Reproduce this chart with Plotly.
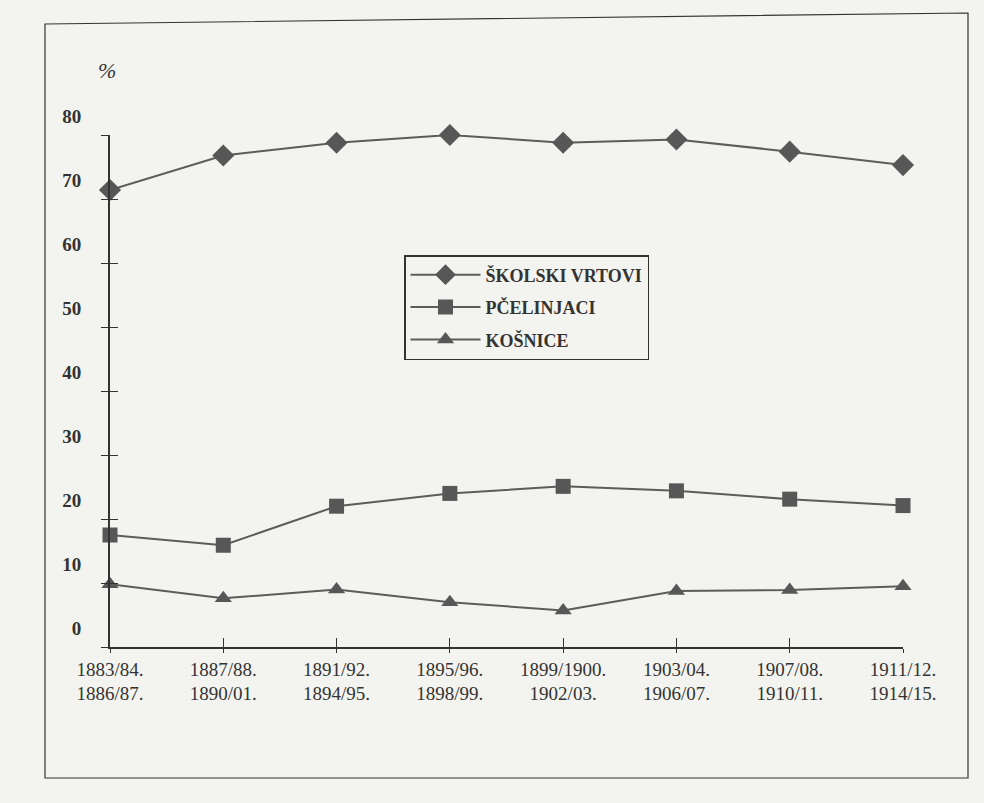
import plotly.graph_objects as go

periods = ["1883/84.<br>1886/87.", "1887/88.<br>1890/01.", "1891/92.<br>1894/95.",
           "1895/96.<br>1898/99.", "1899/1900.<br>1902/03.", "1903/04.<br>1906/07.",
           "1907/08.<br>1910/11.", "1911/12.<br>1914/15."]
skolski_vrtovi = [71.4, 76.8, 78.8, 80.0, 78.8, 79.3, 77.4, 75.3]
pcelinjaci = [17.5, 15.9, 22.0, 24.0, 25.1, 24.4, 23.1, 22.1]
kosnice = [9.8, 7.6, 9.0, 7.0, 5.7, 8.75, 8.9, 9.5]
y_ticks = [0, 10, 20, 30, 40, 50, 60, 70, 80]

W, H = 984, 803
L, R, T, B = 110, 81, 135, 156
BG = "#f3f3ef"
INK = "#333333"
LINE = "#5c5c5c"
MARK = "#575757"

xs = list(range(len(periods)))

fig = go.Figure()
series = [
    ("ŠKOLSKI VRTOVI", skolski_vrtovi, "diamond", 17),
    ("PČELINJACI", pcelinjaci, "square", 15),
    ("KOŠNICE", kosnice, "triangle-up", 15),
]
for i, (name, vals, sym, sz) in enumerate(series):
    fig.add_trace(go.Scatter(
        x=xs, y=vals, name=name, mode="lines+markers",
        line=dict(color=LINE, width=2),
        marker=dict(symbol=sym, size=sz, color=MARK),
        cliponaxis=False, legendgroup=f"g{i}",
    ))
# empty trace to activate overlay axes used for crossing tick marks
fig.add_trace(go.Scatter(x=[], y=[], xaxis="x2", yaxis="y2", showlegend=False, hoverinfo="skip"))

pw = W - L - R
ph = H - T - B
def px_x(p):
    return (p - L) / pw
def px_y(p):
    return (H - B - p) / ph

fig.update_layout(
    width=W, height=H,
    margin=dict(l=L, r=R, t=T, b=B, autoexpand=False),
    paper_bgcolor=BG, plot_bgcolor=BG,
    font=dict(family="Liberation Serif", color=INK),
    xaxis=dict(
        range=[0, len(periods) - 1], tickvals=xs, ticktext=periods,
        showgrid=False, zeroline=False, showline=True, linecolor=INK, linewidth=1.5,
        ticks="outside", ticklen=4, tickwidth=1.2, tickcolor=INK,
        tickfont=dict(family="Liberation Serif", size=19, color=INK),
        fixedrange=True,
    ),
    yaxis=dict(
        range=[0, 80], tickvals=y_ticks, ticktext=[str(v) for v in y_ticks],
        showgrid=False, zeroline=False, showline=True, linecolor=INK, linewidth=2,
        ticks="outside", ticklen=7, tickwidth=1.2, tickcolor=INK,
        tickfont=dict(family="Liberation Serif", size=19, color=INK, weight="bold"),
        ticklabelshift=-19, ticklabelstandoff=16,
        fixedrange=True,
    ),
    xaxis2=dict(
        overlaying="x", range=[0, len(periods) - 1], tickvals=xs,
        showticklabels=False, showgrid=False, zeroline=False, showline=False,
        ticks="inside", ticklen=9, tickwidth=1.2, tickcolor=INK,
    ),
    yaxis2=dict(
        overlaying="y", range=[0, 80], tickvals=y_ticks,
        showticklabels=False, showgrid=False, zeroline=False, showline=False,
        ticks="inside", ticklen=8, tickwidth=1.2, tickcolor=INK,
    ),
    legend=dict(
        x=px_x(404), y=px_y(255), xanchor="left", yanchor="top",
        bgcolor=BG, bordercolor=INK, borderwidth=1.5,
        font=dict(family="Liberation Serif", size=18, color=INK, weight="bold"),
        traceorder="grouped", tracegroupgap=6, itemwidth=70,
    ),
    showlegend=True,
    annotations=[dict(
        text="%", x=px_x(107), y=px_y(70), xref="paper", yref="paper",
        xanchor="center", yanchor="middle",
        showarrow=False, font=dict(family="Liberation Serif", size=22, color=INK, style="italic"),
    )],
    shapes=[dict(
        type="path", xref="paper", yref="paper",
        path=f"M {px_x(45)} {px_y(24)} L {px_x(968)} {px_y(13)} L {px_x(968)} {px_y(778)} L {px_x(45)} {px_y(778)} Z",
        line=dict(color=INK, width=1.2),
    )],
)

fig.write_html(
    "out.html",
    config={"displayModeBar": False},
    post_script="document.body.style.margin='0';document.body.style.background='%s';" % BG,
)
